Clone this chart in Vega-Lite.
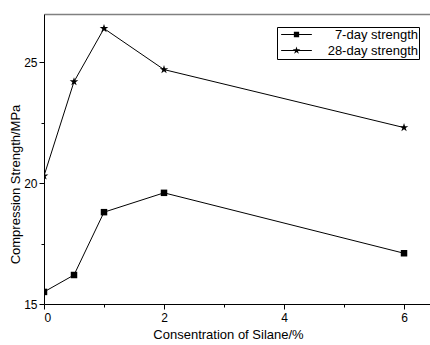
{
  "$schema": "https://vega.github.io/schema/vega-lite/v6.json",
  "width": 386,
  "height": 290,
  "autosize": "none",
  "padding": {"left": 44, "top": 14, "right": 0, "bottom": 41},
  "config": {
    "view": {"stroke": null},
    "font": "Liberation Sans",
    "axis": {
      "labelFont": "Liberation Sans",
      "titleFont": "Liberation Sans",
      "labelFontSize": 12,
      "titleFontSize": 13,
      "titleFontWeight": "normal",
      "labelColor": "black",
      "titleColor": "black",
      "domainColor": "black",
      "tickColor": "black",
      "grid": false
    }
  },
  "data": {
    "values": [
      {"c": 0, "v": 15.5, "s": "7-day strength"},
      {"c": 0.5, "v": 16.2, "s": "7-day strength"},
      {"c": 1, "v": 18.8, "s": "7-day strength"},
      {"c": 2, "v": 19.6, "s": "7-day strength"},
      {"c": 6, "v": 17.1, "s": "7-day strength"},
      {"c": 0, "v": 20.3, "s": "28-day strength"},
      {"c": 0.5, "v": 24.2, "s": "28-day strength"},
      {"c": 1, "v": 26.4, "s": "28-day strength"},
      {"c": 2, "v": 24.7, "s": "28-day strength"},
      {"c": 6, "v": 22.3, "s": "28-day strength"}
    ]
  },
  "resolve": {"axis": {"x": "independent"}, "scale": {"shape": "independent"}},
  "layer": [
    {
      "mark": {"type": "line", "color": "black", "strokeWidth": 1, "clip": true},
      "encoding": {
        "x": {
          "field": "c", "type": "quantitative",
          "scale": {"domain": [0, 6.433], "nice": false, "zero": false},
          "axis": {
            "orient": "bottom",
            "values": [0, 1, 2, 3, 4, 5, 6],
            "labelExpr": "datum.value % 2 === 0 ? format(datum.value, 'd') : ''",
            "tickSize": {"condition": {"test": "datum.value % 2 === 0", "value": 5}, "value": 3},
            "labelPadding": 3,
            "title": "Consentration of Silane/%",
            "titleX": 184,
            "titleY": 24,
            "titleBaseline": "top"
          }
        },
        "y": {
          "field": "v", "type": "quantitative",
          "scale": {"domain": [15, 27], "nice": false, "zero": false},
          "axis": {
            "values": [15, 17.5, 20, 22.5, 25],
            "labelExpr": "datum.value % 5 === 0 ? format(datum.value, 'd') : ''",
            "tickSize": {"condition": {"test": "datum.value % 5 === 0", "value": 5}, "value": 3},
            "labelPadding": 2,
            "title": "Compression Strength/MPa",
            "titleX": -22,
            "titleY": 170,
            "titleAngle": 270,
            "titleBaseline": "bottom"
          }
        },
        "detail": {"field": "s"}
      }
    },
    {
      "mark": {"type": "point", "filled": true, "color": "black", "opacity": 1, "size": 42, "clip": true},
      "encoding": {
        "x": {"field": "c", "type": "quantitative", "axis": null},
        "y": {"field": "v", "type": "quantitative"},
        "shape": {
          "field": "s", "type": "nominal",
          "scale": {
            "domain": ["7-day strength", "28-day strength"],
            "range": [
              "square",
              "M0,-1.4L0.315,-0.433L1.331,-0.433L0.508,0.165L0.823,1.133L0,0.535L-0.823,1.133L-0.508,0.165L-1.331,-0.433L-0.315,-0.433Z"
            ]
          },
          "legend": null
        }
      }
    },
    {
      "mark": {"type": "point", "filled": true, "fill": "black", "stroke": "black", "strokeWidth": 0.5, "opacity": 1, "xOffset": 3000, "clip": true},
      "encoding": {
        "x": {"field": "c", "type": "quantitative", "axis": null},
        "y": {"field": "v", "type": "quantitative"},
        "shape": {
          "field": "s", "type": "nominal",
          "scale": {
            "domain": ["7-day strength", "28-day strength"],
            "range": [
              "M-5.8,-0.17H5.8V0.17H-5.8ZM-1,-1H1V1H-1Z",
              "M-5.8,-0.17H5.8V0.17H-5.8ZM0,-1.5L0.337,-0.464L1.427,-0.464L0.545,0.177L0.882,1.214L0,0.573L-0.882,1.214L-0.545,0.177L-1.427,-0.464L-0.337,-0.464Z"
            ]
          },
          "legend": {
            "title": null,
            "orient": "none",
            "legendX": 233,
            "legendY": 13,
            "strokeColor": "black",
            "fillColor": "white",
            "padding": 1,
            "rowPadding": 2,
            "symbolSize": 28,
            "symbolOffset": 12,
            "symbolFillColor": "black",
            "symbolStrokeColor": "black",
            "symbolStrokeWidth": 0.5,
            "symbolOpacity": 1,
            "labelFont": "Liberation Sans",
            "labelFontSize": 13,
            "labelColor": "black",
            "labelAlign": "right",
            "labelOffset": 115
          }
        }
      }
    },
    {
      "mark": {"type": "point", "opacity": 0},
      "encoding": {
        "x": {
          "field": "c", "type": "quantitative",
          "axis": {"orient": "top", "labels": false, "ticks": false, "title": null, "domainColor": "#808080", "domainWidth": 1.5}
        },
        "y": {"field": "v", "type": "quantitative"}
      }
    }
  ]
}
